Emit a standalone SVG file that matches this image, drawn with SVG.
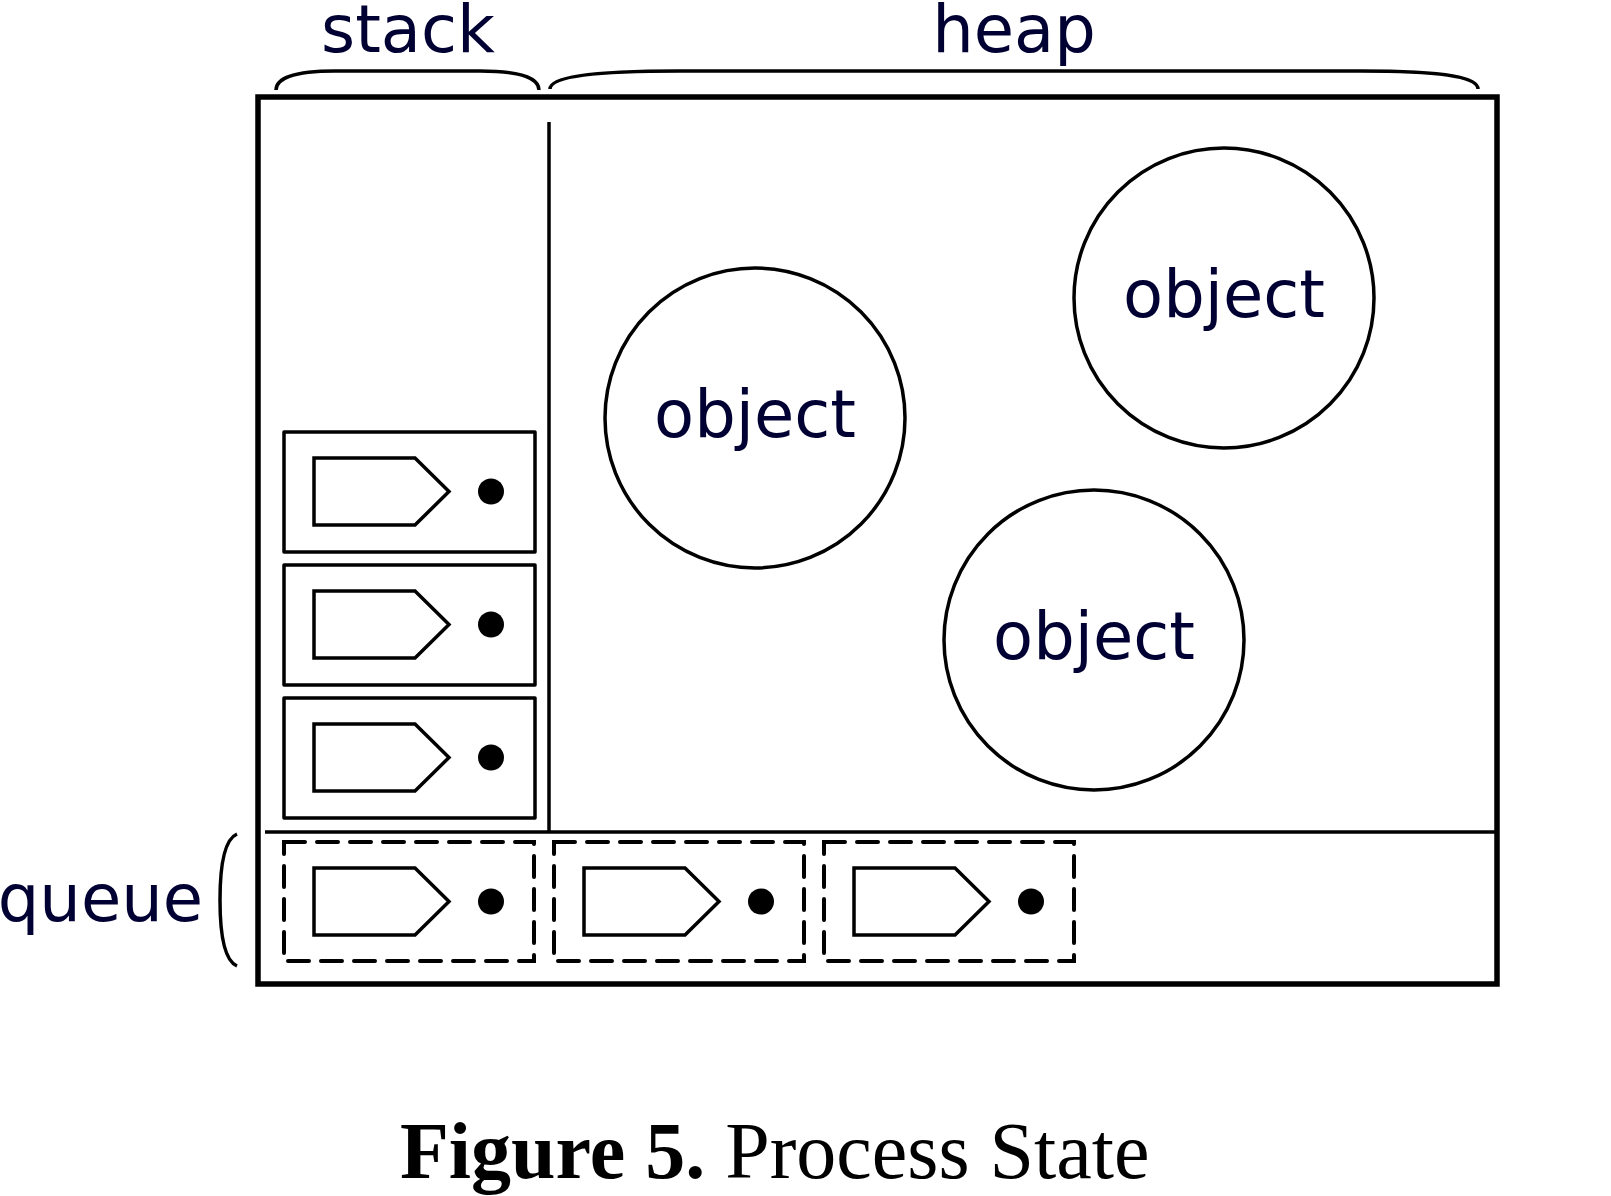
<svg xmlns="http://www.w3.org/2000/svg" width="1611" height="1196" viewBox="0 0 1611 1196">
<defs>
<style>
.lbl{font-family:"DejaVu Sans","Verdana",sans-serif;font-size:65.5px;fill:#000033}
.cap{font-family:"Liberation Serif","Times New Roman",serif;font-size:80px;fill:#000}
.ln{fill:none;stroke:#000;stroke-width:3.5;stroke-linejoin:round}
.frame{fill:none;stroke:#000;stroke-width:5.5}
.row{fill:#fff;stroke:#000;stroke-width:3.5;stroke-linejoin:round}
.qbox{fill:none;stroke:#000;stroke-width:4;stroke-dasharray:21 12;stroke-linecap:round}
.tag{fill:#fff;stroke:#000;stroke-width:3.5;stroke-linejoin:miter}
.obj{fill:#fff;stroke:#000;stroke-width:3.5}
</style>
<g id="frame-item">
<polygon class="tag" points="30,26 131,26 165,59.5 131,93 30,93"/>
<circle cx="207" cy="59.5" r="13" fill="#000"/>
</g>
</defs>
<rect width="1611" height="1196" fill="#fff"/>

<g id="labels">
<text class="lbl" x="408" y="52" text-anchor="middle">stack</text>
<text class="lbl" x="1014" y="52" text-anchor="middle">heap</text>
<text class="lbl" x="203" y="921" text-anchor="end">queue</text>
</g>

<g id="braces">
<path class="ln" d="M276,90 C276,79 292,71 335,71 L480,71 C523,71 539,79 539,90"/>
<path class="ln" d="M550,89 C550,78 585,71 680,71 L1360,71 C1450,71 1478,78 1478,89"/>
<path class="ln" d="M237,834 C223,840 220,872 220,900 C220,930 223,960 237,966"/>
</g>

<g id="process">
<rect class="frame" x="258" y="97" width="1239" height="887"/>
<line class="ln" x1="549" y1="122" x2="549" y2="832"/>
<line class="ln" x1="265" y1="832" x2="1497" y2="832"/>
</g>

<g id="stack">
<g id="stack-frame-1">
<rect class="row" x="284" y="432" width="251" height="120"/>
<use href="#frame-item" x="284" y="432"/>
</g>
<g id="stack-frame-2">
<rect class="row" x="284" y="565" width="251" height="120"/>
<use href="#frame-item" x="284" y="565"/>
</g>
<g id="stack-frame-3">
<rect class="row" x="284" y="698" width="251" height="120"/>
<use href="#frame-item" x="284" y="698"/>
</g>
</g>

<g id="queue">
<g id="queue-msg-1">
<rect class="qbox" x="284" y="842" width="250" height="119"/>
<use href="#frame-item" x="284" y="842"/>
</g>
<g id="queue-msg-2">
<rect class="qbox" x="554" y="842" width="250" height="119"/>
<use href="#frame-item" x="554" y="842"/>
</g>
<g id="queue-msg-3">
<rect class="qbox" x="824" y="842" width="250" height="119"/>
<use href="#frame-item" x="824" y="842"/>
</g>
</g>

<g id="heap">
<g id="object-1">
<circle class="obj" cx="755" cy="418" r="150"/>
<text class="lbl" x="755" y="437" text-anchor="middle">object</text>
</g>
<g id="object-2">
<circle class="obj" cx="1224" cy="298" r="150"/>
<text class="lbl" x="1224" y="317" text-anchor="middle">object</text>
</g>
<g id="object-3">
<circle class="obj" cx="1094" cy="640" r="150"/>
<text class="lbl" x="1094" y="659" text-anchor="middle">object</text>
</g>
</g>

<g id="connectors"/>

<g id="caption">
<text class="cap" x="400" y="1178"><tspan font-weight="bold">Figure 5.</tspan> Process State</text>
</g>
</svg>
